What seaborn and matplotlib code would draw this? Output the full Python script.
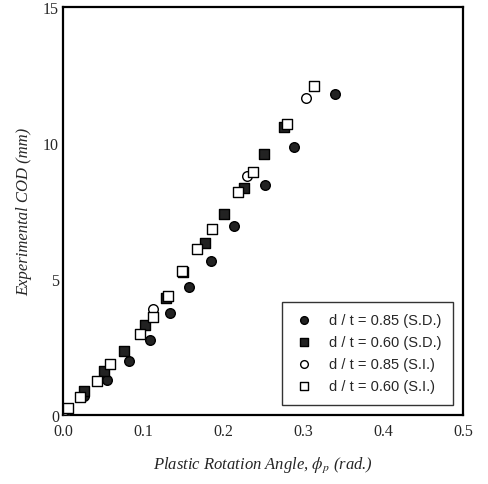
import pandas as pd
import matplotlib
matplotlib.use("Agg")
import matplotlib.pyplot as plt
import seaborn as sns
from matplotlib.ticker import MultipleLocator

# Data
sd85_x = [0.005, 0.026, 0.055, 0.082, 0.109, 0.134, 0.158, 0.185, 0.214, 0.252, 0.289, 0.340]
sd85_y = [0.15, 0.70, 1.30, 2.00, 2.75, 3.75, 4.70, 5.65, 6.95, 8.45, 9.85, 11.80]

sd60_x = [0.003, 0.026, 0.051, 0.076, 0.1025, 0.129, 0.150, 0.1775, 0.201, 0.226, 0.251, 0.276]
sd60_y = [0.10, 0.88, 1.62, 2.35, 3.30, 4.30, 5.26, 6.32, 7.40, 8.35, 9.60, 10.60]

si85_x = [0.002, 0.1125, 0.230, 0.304]
si85_y = [0.20, 3.90, 8.80, 11.65]

si60_x = [0.006, 0.021, 0.042, 0.059, 0.096, 0.1125, 0.131, 0.149, 0.1675, 0.186, 0.219, 0.2375, 0.280, 0.314]
si60_y = [0.25, 0.66, 1.25, 1.87, 2.98, 3.60, 4.38, 5.30, 6.10, 6.84, 8.20, 8.93, 10.70, 12.10]

labels = ["d / t = 0.85 (S.D.)", "d / t = 0.60 (S.D.)",
          "d / t = 0.85 (S.I.)", "d / t = 0.60 (S.I.)"]

sns.set_style("white")
plt.rcParams["font.family"] = ["Liberation Serif", "DejaVu Serif"]
plt.rcParams["mathtext.fontset"] = "stix"

fig = plt.figure(figsize=(4.89, 4.85), dpi=100)
ax = fig.add_axes([0.129, 0.142, 0.818, 0.842])

series = [
    (sd85_x, sd85_y, "o", "#222222", labels[0]),
    (sd60_x, sd60_y, "s", "#222222", labels[1]),
    (si85_x, si85_y, "o", "white", labels[2]),
    (si60_x, si60_y, "s", "white", labels[3]),
]
for xs, ys, m, fc, lab in series:
    df = pd.DataFrame({"x": xs, "y": ys})
    sns.scatterplot(data=df, x="x", y="y", marker=m, s=48, color=fc,
                    edgecolor="black", linewidth=1.0, label=lab, ax=ax, zorder=3)

ax.set_xlim(0, 0.5)
ax.set_ylim(0, 15)
ax.xaxis.set_major_locator(MultipleLocator(0.1))
ax.xaxis.set_minor_locator(MultipleLocator(0.05))
ax.yaxis.set_major_locator(MultipleLocator(5))
ax.yaxis.set_minor_locator(MultipleLocator(1))
ax.set_xticks([0, 0.1, 0.2, 0.3, 0.4, 0.5])
ax.set_xticklabels(["0.0", "0.1", "0.2", "0.3", "0.4", "0.5"])
ax.set_yticks([0, 5, 10, 15])
ax.set_yticklabels(["0", "5", "10", "15"])
ax.tick_params(which="both", direction="in", labelsize=11.5, width=1.2, color="black")
ax.tick_params(which="major", length=6)
ax.tick_params(which="minor", length=3)
ax.tick_params(axis="x", pad=6)
ax.tick_params(axis="y", pad=3)
for sp in ax.spines.values():
    sp.set_linewidth(1.6)
    sp.set_color("black")

ax.set_xlabel(r"Plastic Rotation Angle, $\phi_p$ (rad.)", fontsize=12, style="italic", labelpad=11)
ax.set_ylabel("Experimental COD (mm)", fontsize=12, style="italic", labelpad=8)

leg = ax.legend(loc="lower right", frameon=True, fancybox=False, borderaxespad=0.7,
                prop={"family": "Liberation Sans", "size": 10.5}, handletextpad=1.0,
                labelspacing=0.55, borderpad=0.8, handlelength=1.4, markerscale=0.8)
leg.get_frame().set_edgecolor("black")
leg.get_frame().set_linewidth(1.0)

fig.savefig("out.png", dpi=100)
